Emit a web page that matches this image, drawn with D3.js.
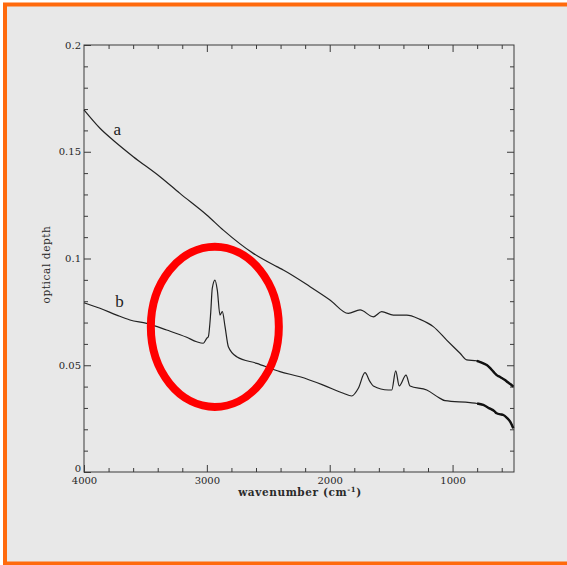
<!DOCTYPE html>
<html>
<head>
<meta charset="utf-8">
<script src="https://cdn.jsdelivr.net/npm/d3@7/dist/d3.min.js"></script>
<style>
  html, body { margin: 0; padding: 0; background: #ffffff; }
  svg { display: block; }
</style>
</head>
<body>
<svg id="chart" width="567" height="565"></svg>
<script>
// ---- data (wavenumber cm^-1, optical depth) ----
const seriesA = [
  [4000,0.1696],[3870,0.1610],[3748,0.1547],[3599,0.1477],[3381,0.1383],
  [3219,0.1305],[3001,0.1204],[2866,0.1133],[2622,0.1024],[2431,0.0962],
  [2378,0.0946],[2160,0.0868],[1998,0.0806],[1849,0.0743],[1753,0.0759],
  [1645,0.0727],[1577,0.0751],[1482,0.0735],[1373,0.0735],[1265,0.0715],
  [1157,0.0681],[1048,0.0618],[939,0.0556],[885,0.0525],[804,0.0521],
  [770,0.0514],[745,0.0508],[722,0.0501],[700,0.0490],[680,0.0478],
  [660,0.0465],[641,0.0454],[620,0.0447],[600,0.0440],[573,0.0431],
  [550,0.0420],[530,0.0412],[506,0.0400]
];
const seriesB = [
  [4000,0.0793],[3870,0.0767],[3734,0.0735],[3626,0.0712],[3490,0.0696],
  [3327,0.0665],[3164,0.0631],[3083,0.0610],[3029,0.0603],[3001,0.0626],
  [2988,0.0634],[2969,0.0743],[2956,0.0860],[2934,0.0899],[2915,0.0852],
  [2893,0.0735],[2874,0.0751],[2852,0.0681],[2825,0.0587],[2757,0.0540],
  [2594,0.0509],[2405,0.0470],[2242,0.0446],[2052,0.0407],[1889,0.0369],
  [1821,0.0356],[1767,0.0392],[1713,0.0465],[1672,0.0423],[1645,0.0403],
  [1523,0.0384],[1495,0.0384],[1463,0.0474],[1434,0.0403],[1379,0.0454],
  [1346,0.0403],[1210,0.0384],[1102,0.0345],[1061,0.0334],[858,0.0325],
  [800,0.0321],[750,0.0314],[700,0.0298],[660,0.0285],[641,0.0275],
  [610,0.0270],[587,0.0267],[560,0.0255],[530,0.0235],[506,0.0205]
];
const xMajorTicks = [4000, 3000, 2000, 1000];
const yMajorTicks = [0, 0.05, 0.1, 0.15, 0.2];
const seriesLabels = [
  {text: "a", w: 3760, v: 0.158},
  {text: "b", w: 3745, v: 0.0773}
];
const highlight = {w: 2935, v: 0.0680, rw: 521, rv: 0.0375};
const noisyBelow = 820;
const xTitle = "wavenumber (cm";
const yTitle = "optical depth";

// ---- layout ----
const svg = d3.select("#chart");
const W = 567, H = 565;
const mLeft = 84, mRight = 514, mTop = 45, mBottom = 472;

svg.append("rect").attr("x", 5).attr("y", 4.5).attr("width", W + 10).attr("height", 559)
  .attr("fill", "#e8e8e8").attr("stroke", "#ff6a0d").attr("stroke-width", 4);

const x = d3.scaleLinear().domain([4000, 500]).range([mLeft, mRight]);
const y = d3.scaleLinear().domain([0, 0.2]).range([mBottom, mTop]);

const minorX = d3.range(4000, 499, -200).filter(d => d % 1000 !== 0);
const minorY = d3.range(0, 0.2001, 0.01).map(d => +d.toFixed(2)).filter(d => Math.round(d * 100) % 5 !== 0);

const fontTick = "'DejaVu Serif', 'Liberation Serif', serif";
const axisColor = "#3a3a3a";

function styleAxis(g) {
  g.select(".domain").remove();
  g.selectAll("line").attr("stroke", axisColor).attr("stroke-width", 1);
  g.selectAll("text").attr("fill", "#262626").attr("font-family", fontTick).attr("font-size", 10);
}

// bottom
svg.append("g").attr("transform", `translate(0,${mBottom})`)
  .call(d3.axisBottom(x).tickValues(xMajorTicks).tickSize(-7).tickPadding(5).tickFormat(d3.format("d")))
  .call(styleAxis);
svg.append("g").attr("transform", `translate(0,${mBottom})`)
  .call(d3.axisBottom(x).tickValues(minorX).tickSize(-4).tickFormat(""))
  .call(styleAxis);
// top
svg.append("g").attr("transform", `translate(0,${mTop})`)
  .call(d3.axisTop(x).tickValues(xMajorTicks.slice(1)).tickSize(-7).tickFormat(""))
  .call(styleAxis);
svg.append("g").attr("transform", `translate(0,${mTop})`)
  .call(d3.axisTop(x).tickValues(minorX).tickSize(-4).tickFormat(""))
  .call(styleAxis);
// left
const gLeft = svg.append("g").attr("transform", `translate(${mLeft},0)`)
  .call(d3.axisLeft(y).tickValues(yMajorTicks).tickSize(-7).tickPadding(3)
    .tickFormat(d => d === 0 ? "0" : String(d)))
  .call(styleAxis);
gLeft.selectAll(".tick").filter(d => d === 0).select("text").attr("dy", "-0.05em");
svg.append("g").attr("transform", `translate(${mLeft},0)`)
  .call(d3.axisLeft(y).tickValues(minorY).tickSize(-4).tickFormat(""))
  .call(styleAxis);
// right
svg.append("g").attr("transform", `translate(${mRight},0)`)
  .call(d3.axisRight(y).tickValues(yMajorTicks.slice(1, 4)).tickSize(-7).tickFormat(""))
  .call(styleAxis);
svg.append("g").attr("transform", `translate(${mRight},0)`)
  .call(d3.axisRight(y).tickValues(minorY).tickSize(-4).tickFormat(""))
  .call(styleAxis);

// frame
svg.append("rect").attr("x", mLeft).attr("y", mTop).attr("width", mRight - mLeft).attr("height", mBottom - mTop)
  .attr("fill", "none").attr("stroke", axisColor).attr("stroke-width", 1);

// curves
const line = d3.line().x(d => x(d[0])).y(d => y(d[1])).curve(d3.curveMonotoneX);
[seriesA, seriesB].forEach(s => {
  svg.append("path").datum(s).attr("d", line)
    .attr("fill", "none").attr("stroke", "#222").attr("stroke-width", 1.2);
  // noisy low-wavenumber end drawn heavier
  svg.append("path").datum(s.filter(d => d[0] <= noisyBelow)).attr("d", line)
    .attr("fill", "none").attr("stroke", "#111").attr("stroke-width", 2.4);
});

// curve labels
svg.selectAll("text.lab").data(seriesLabels).enter().append("text")
  .attr("class", "lab")
  .attr("x", d => x(d.w)).attr("y", d => y(d.v))
  .attr("font-family", "'Liberation Serif', serif").attr("font-size", 17).attr("fill", "#222")
  .text(d => d.text);

// axis titles
const xt = svg.append("text").attr("x", (mLeft + mRight) / 2 + 1).attr("y", 496)
  .attr("text-anchor", "middle").attr("font-family", fontTick).attr("font-size", 10.5)
  .attr("font-weight", "bold").attr("fill", "#2a2a2a").attr("letter-spacing", 0.6);
xt.append("tspan").text(xTitle);
xt.append("tspan").attr("dy", -4).attr("font-size", 7).text("-1");
xt.append("tspan").attr("dy", 4).text(")");

svg.append("text")
  .attr("transform", `translate(50,${(mTop + mBottom) / 2 + 6}) rotate(-90)`)
  .attr("text-anchor", "middle").attr("font-family", fontTick).attr("font-size", 10.5)
  .attr("fill", "#2a2a2a").attr("letter-spacing", 0.6)
  .text(yTitle);

// highlight ellipse
svg.append("ellipse")
  .attr("cx", x(highlight.w)).attr("cy", y(highlight.v))
  .attr("rx", Math.abs(x(highlight.w + highlight.rw) - x(highlight.w)))
  .attr("ry", Math.abs(y(highlight.v + highlight.rv) - y(highlight.v)))
  .attr("fill", "none").attr("stroke", "#ff0000").attr("stroke-width", 8);
</script>
</body>
</html>
